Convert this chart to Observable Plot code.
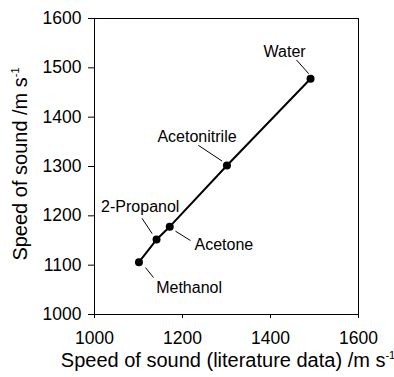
<!DOCTYPE html>
<html>
<head>
<meta charset="utf-8">
<script src="https://cdn.jsdelivr.net/npm/d3@7"></script>
<script src="https://cdn.jsdelivr.net/npm/@observablehq/plot@0.6"></script>
<style>
  html, body { margin: 0; padding: 0; background: #fff; }
</style>
</head>
<body>
<div id="chart"></div>
<script>
const solvents = ["Methanol", "2-Propanol", "Acetone", "Acetonitrile", "Water"];
const literature = [1101, 1141, 1171, 1301, 1491];
const measured = [1106, 1152, 1178, 1302, 1478];
const labelX = [1215, 1104, 1294, 1233, 1432];
const labelY = [1053, 1219, 1142, 1361, 1533];
const leaderFromX = [1116, 1108, 1184, 1236, 1459];
const leaderFromY = [1095, 1195, 1169, 1343, 1516];
const leaderToX = [1134, 1131, 1218, 1290, 1487];
const leaderToY = [1075, 1164, 1150, 1311, 1488];
const xTicks = [1000, 1200, 1400, 1600];
const yTicks = [1000, 1100, 1200, 1300, 1400, 1500, 1600];
const xTitle = "Speed of sound (literature data) /m s";
const yTitle = "Speed of sound /m s";
const unitExp = "-1";

const points = solvents.map((s, i) => ({name: s, x: literature[i], y: measured[i]}));
const labels = solvents.map((s, i) => ({name: s, x: labelX[i], y: labelY[i]}));
const leaders = solvents.map((s, i) => ({x1: leaderFromX[i], y1: leaderFromY[i], x2: leaderToX[i], y2: leaderToY[i]}));

const svg = Plot.plot({
  width: 394,
  height: 377,
  marginLeft: 94,
  marginRight: 36,
  marginTop: 18,
  marginBottom: 63,
  style: {fontFamily: "'Liberation Sans', Arial, sans-serif", fontSize: "17.5px", background: "#fff", color: "#000"},
  x: {domain: [1000, 1600], ticks: xTicks},
  y: {domain: [1000, 1600], ticks: yTicks},
  marks: [
    Plot.frame({stroke: "#000", strokeWidth: 1}),
    Plot.axisX({ticks: xTicks, tickSize: 4, tickPadding: 13, label: null, tickFormat: d => String(d)}),
    Plot.axisY({ticks: yTicks, tickSize: 6, tickPadding: 7, label: null, tickFormat: d => String(d)}),
    Plot.line(points, {x: "x", y: "y", stroke: "#000", strokeWidth: 2}),
    Plot.dot(points, {x: "x", y: "y", r: 4, fill: "#000", stroke: "none"}),
    Plot.link(leaders, {x1: "x1", y1: "y1", x2: "x2", y2: "y2", stroke: "#000", strokeWidth: 1}),
    Plot.text(labels, {x: "x", y: "y", text: "name", fontSize: 16, fill: "#000", textAnchor: "middle", lineAnchor: "middle"})
  ]
});

const root = d3.select(svg);
const tx = root.append("text")
  .attr("x", 228).attr("y", 367)
  .attr("text-anchor", "middle")
  .attr("font-size", 20)
  .attr("fill", "#000");
tx.append("tspan").text(xTitle);
tx.append("tspan").attr("font-size", 11).attr("dy", -8).text(unitExp);

const ty = root.append("text")
  .attr("transform", "translate(26.5,164) rotate(-90)")
  .attr("text-anchor", "middle")
  .attr("font-size", 20)
  .attr("fill", "#000");
ty.append("tspan").text(yTitle);
ty.append("tspan").attr("font-size", 11).attr("dy", -8).text(unitExp);

document.getElementById("chart").appendChild(svg);
</script>
</body>
</html>
